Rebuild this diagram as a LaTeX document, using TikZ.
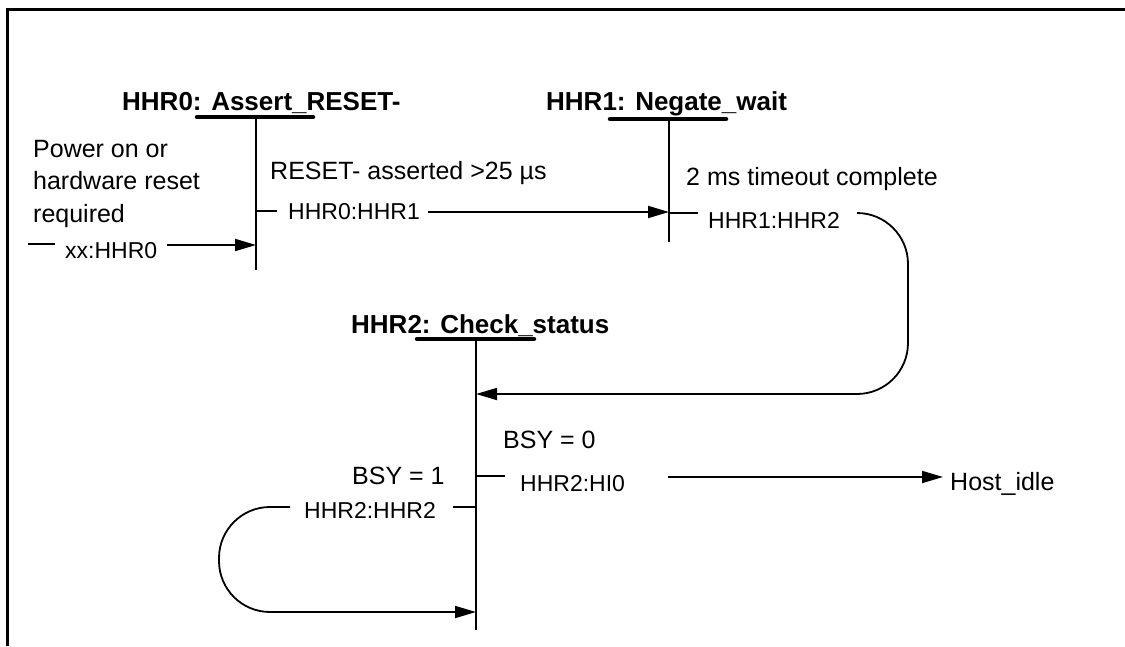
\documentclass[tikz,border=0pt]{standalone}
\usepackage{fontspec}
\setmainfont{Liberation Sans}
\usetikzlibrary{arrows.meta,positioning}
\newcommand{\statefont}{\fontsize{26}{30}\selectfont\bfseries}
\newcommand{\condfont}{\fontsize{25}{32.5}\selectfont}
\newcommand{\transfont}{\fontsize{23}{26}\selectfont}
\newcommand{\linew}{1.8pt}
\tikzset{
    statename/.style = { font=\statefont, anchor=base west, inner sep=0pt },
    cond/.style = { font=\condfont, anchor=base west, inner sep=0pt, align=left },
    trans/.style = { font=\transfont, anchor=base west, inner sep=0pt },
    bar/.style = { line width=4.5pt, line cap=round },
    life/.style = { line width=\linew },
    tick/.style = { line width=\linew },
    arrow/.style = { line width=\linew, -{Triangle[length=21pt,width=12pt]} },
    backloop/.style = { line width=\linew, rounded corners=51pt }
}
\begin{document}
\begin{tikzpicture}[x=1pt, y=-1pt]
        \useasboundingbox (0,0) rectangle (1125,646);
        % frame...
        \draw[line width=3pt] (7,646) -- (7,9.5) -- (1125,9.5);

        % life lines...
        \coordinate (h0top) at (256,117);
        \coordinate (h0bot) at (256,270);
        \coordinate (h1top) at (669,119);
        \coordinate (h1bot) at (669,242);
        \coordinate (h2top) at (476,339);
        \coordinate (h2bot) at (476,630);

        % HHR0 state...
        \node[statename] (s0) at (122,110) {HHR0: Assert\_RESET-};
        \draw[bar] ([xshift=-59pt]h0top) -- ([xshift=57pt]h0top);
        \draw[life] (h0top) -- (h0bot);
        \node[cond] (c00) at (33,222) {Power on or\\hardware reset\\required};
        \node[trans] (t00) at (65,258) {xx:HHR0};
        \node[cond] (c01) at (270,179) {RESET- asserted >25 µs};
        \node[trans] (t01) at (288,219) {HHR0:HHR1};

        % HHR1 state...
        \node[statename] (s1) at (546,110) {HHR1: Negate\_wait};
        \draw[bar] ([xshift=-59pt]h1top) -- ([xshift=57pt]h1top);
        \draw[life] (h1top) -- (h1bot);
        \node[cond] (c12) at (686,185) {2 ms timeout complete};
        \node[trans] (t12) at (708,228) {HHR1:HHR2};

        % HHR2 state...
        \node[statename] (s2) at (351,333) {HHR2: Check\_status};
        \draw[bar] ([xshift=-59pt]h2top) -- ([xshift=58pt]h2top);
        \draw[life] (h2top) -- (h2bot);
        \node[cond] (c2i) at (503,448) {BSY = 0};
        \node[trans] (t2i) at (520,491) {HHR2:HI0};
        \node[cond] (c22) at (352,484) {BSY = 1};
        \node[trans] (t22) at (304,518) {HHR2:HHR2};
        \node[cond] (idle) at (950,490) {Host\_idle};

        % ticks...
        \draw[tick] (28,244) -- (55,244);
        \draw[tick] (256,211) -- (277,211);
        \draw[tick] (669,213) -- (698,213);
        \draw[tick] (476,476) -- (505,476);
        \draw[tick] (453,507) -- (476,507);

        % arrows...
        \coordinate (a00) at (167,245);
        \coordinate (a01) at (428,212);
        \coordinate (a12) at (857,213);
        \coordinate (a2i) at (668,477);
        \coordinate (a22) at (290,507);
        \draw[arrow] (a00) -- (a00 -| h0top);
        \draw[arrow] (a01) -- (a01 -| h1top);
        \draw[arrow, backloop] (a12) -- (908,213) -- (908,394) -- (h2top |- 0,394);
        \draw[arrow] (a2i) -- ([xshift=-7pt]idle.west |- a2i);
        \draw[arrow, backloop] (a22) -- (219,507) -- (219,612) -- (h2top |- 0,612);
\end{tikzpicture}
\end{document}
